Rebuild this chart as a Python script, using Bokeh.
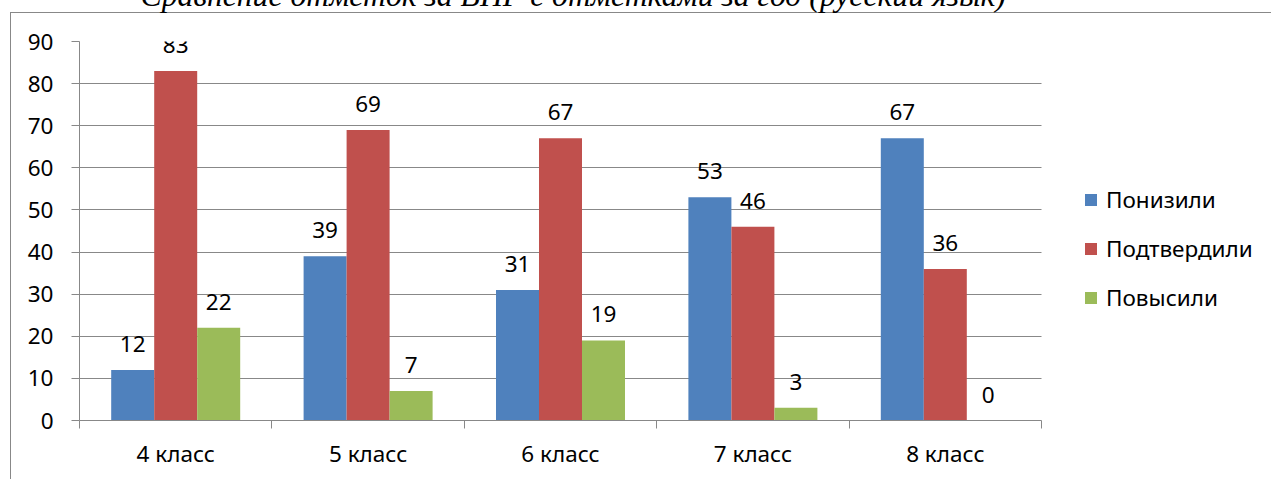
from bokeh.plotting import figure
from bokeh.models import (ColumnDataSource, Range1d, FixedTicker, LabelSet, Legend,
                          LegendItem, Title)
from bokeh.core.properties import value
from bokeh.transform import dodge
from bokeh.embed import file_html
from bokeh.resources import INLINE

# ---- data ----
classes = ["4 класс", "5 класс", "6 класс", "7 класс", "8 класс"]
series_names = ["Понизили", "Подтвердили", "Повысили"]
lowered = [12, 39, 31, 53, 67]
confirmed = [83, 69, 67, 46, 36]
raised = [22, 7, 19, 3, 0]
y_ticks = [0, 10, 20, 30, 40, 50, 60, 70, 80, 90]
title_text = "Сравнение отметок за ВПР с отметками за год (русский язык)"

colors = ["#4F81BD", "#C0504D", "#9BBB59"]
GRAY = "#888888"
FONT = "Noto Sans"
FS = "22.5px"

n = len(classes)
centers = [i + 0.5 for i in range(n)]
bounds = [float(i) for i in range(n + 1)]

source = ColumnDataSource(data=dict(
    x=centers,
    lowered=lowered,
    confirmed=confirmed,
    raised=raised,
    lowered_t=[str(v) for v in lowered],
    confirmed_t=[str(v) for v in confirmed],
    raised_t=[str(v) for v in raised],
))

# layout constants (pixels)
W, H = 1271, 479
PLOT_L, PLOT_R, PLOT_T, PLOT_B = 79, 1041, 41, 420
SHIFT = 60  # canvas starts above the page so the title is cut like in the reference

# the frame spans to the right edge so the legend is inside it; the bar area is [0, n]
x_end = n * (W - PLOT_L) / (PLOT_R - PLOT_L)

p = figure(width=W, height=H + SHIFT, output_backend="svg", toolbar_location=None,
           x_range=Range1d(0, x_end), y_range=Range1d(0, 90),
           min_border_left=PLOT_L, min_border_right=0, min_border_top=PLOT_T + SHIFT,
           min_border_bottom=H - PLOT_B, tools="")
p.styles = {
    "margin-top": f"-{SHIFT}px",
    "background-image": "linear-gradient(#888888,#888888), linear-gradient(#888888,#888888)",
    "background-size": "100% 1px, 1px 100%",
    "background-position": f"10px {12 + SHIFT}px, 10px {12 + SHIFT}px",
    "background-repeat": "no-repeat",
}
p.outline_line_color = None
p.background_fill_color = "white"
p.border_fill_alpha = 0

p.title = Title(text=title_text, align="left", offset=140 - PLOT_L, standoff=57,
                text_font="Liberation Serif", text_font_style="italic",
                text_font_size="31.7px", text_color="black")

bw = 0.2235
fields = ["lowered", "confirmed", "raised"]
offsets = [-bw, 0.0, bw]
renderers = []
for f, off, c in zip(fields, offsets, colors):
    r = p.vbar(x=dodge("x", off, range=p.x_range), top=f, width=bw, source=source,
               fill_color=c, line_color=None)
    renderers.append(r)
    lbl = LabelSet(x=dodge("x", off, range=p.x_range), y=f, text=f + "_t", source=source,
                   y_offset=18, text_align="center", text_baseline="alphabetic",
                   text_font=value(FONT), text_font_size=value(FS), text_color="black")
    p.add_layout(lbl)

# y axis
p.yaxis.ticker = FixedTicker(ticks=y_ticks)
p.yaxis.major_tick_out = 8
p.yaxis.major_tick_in = 0
p.yaxis.minor_tick_line_color = None
p.yaxis.axis_line_color = GRAY
p.yaxis.major_tick_line_color = GRAY
p.yaxis.major_label_standoff = 18
p.yaxis.major_label_text_font = FONT
p.yaxis.major_label_text_font_size = FS
p.yaxis.major_label_text_color = "black"

# x axis: labels at category centres, ticks at category boundaries (minor ticks)
p.xaxis.ticker = FixedTicker(ticks=centers, minor_ticks=bounds)
p.xaxis.bounds = (0, n)
p.xaxis.major_label_overrides = {c: name for c, name in zip(centers, classes)}
p.xaxis.major_tick_line_color = None
p.xaxis.major_tick_out = 0
p.xaxis.major_tick_in = 0
p.xaxis.minor_tick_out = 8
p.xaxis.minor_tick_in = 0
p.xaxis.minor_tick_line_color = GRAY
p.xaxis.axis_line_color = GRAY
p.xaxis.major_label_standoff = 9
p.xaxis.major_label_text_font = FONT
p.xaxis.major_label_text_font_size = FS
p.xaxis.major_label_text_color = "black"

p.xgrid.grid_line_color = None
p.ygrid.grid_line_color = GRAY
p.ygrid.ticker = FixedTicker(ticks=y_ticks)
p.ygrid.cross_bounds = (0, n)

legend = Legend(items=[LegendItem(label=s, renderers=[r]) for s, r in zip(series_names, renderers)],
                location=(1083 - PLOT_L, 107.5), orientation="vertical",
                glyph_width=15, glyph_height=15, label_standoff=8, spacing=18,
                label_height=30, padding=0, margin=0,
                border_line_color=None, background_fill_alpha=0,
                label_text_font=FONT, label_text_font_size=FS, label_text_color="black")
p.add_layout(legend)

open("out.html", "w").write(file_html(p, INLINE))
